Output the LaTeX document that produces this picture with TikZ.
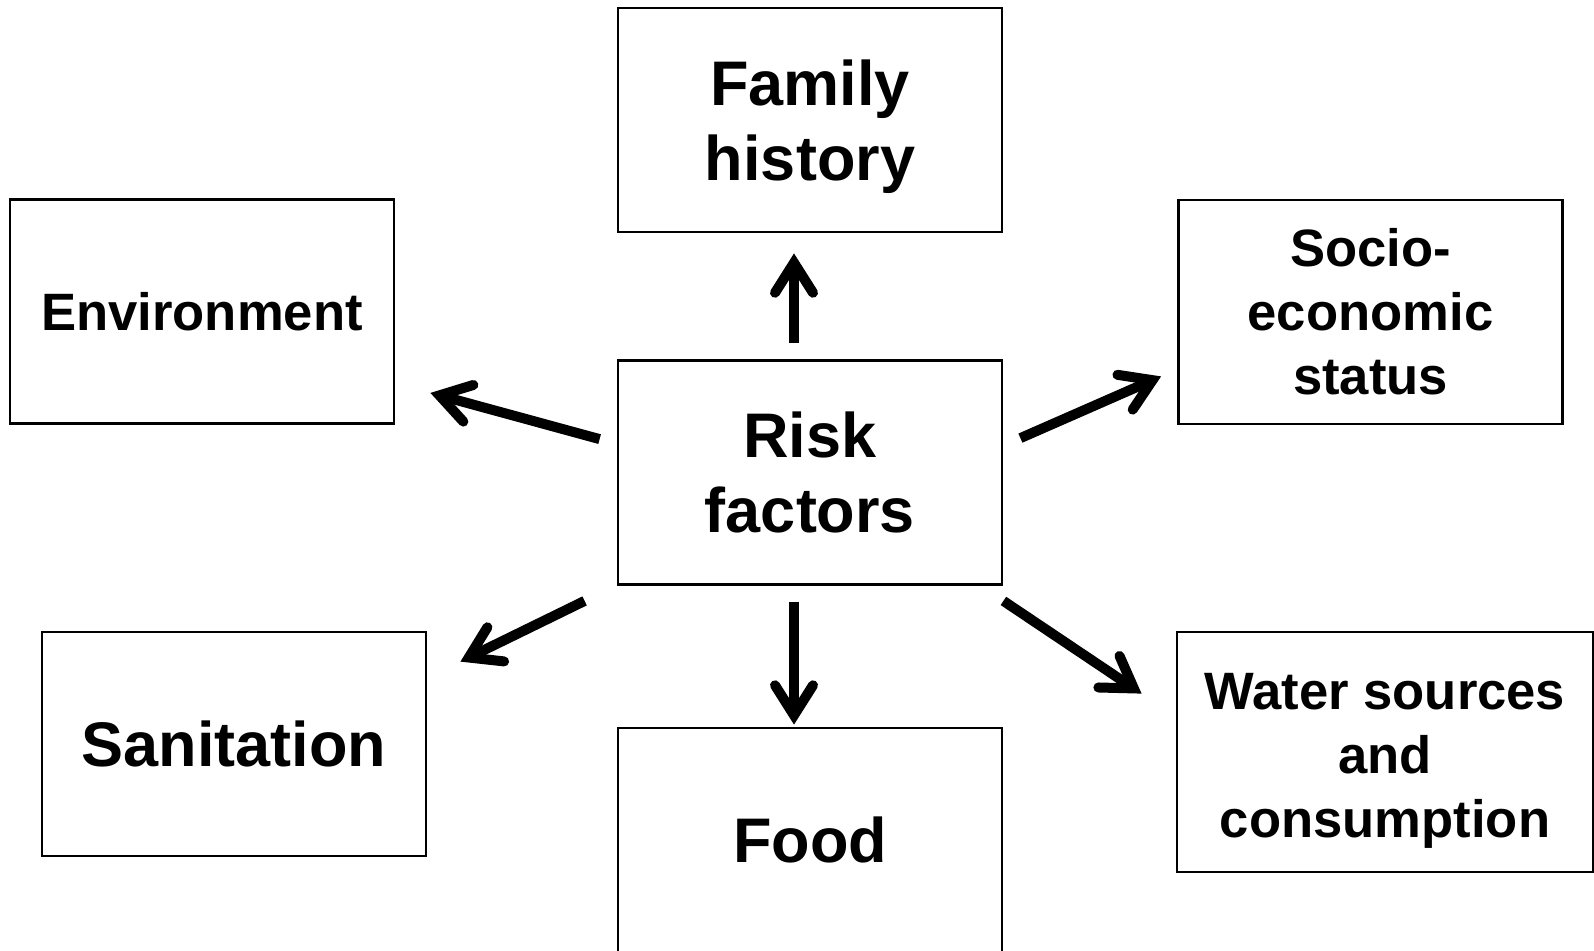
\documentclass[tikz,border=0pt]{standalone}
\usepackage{fontspec}
\setmainfont{Liberation Sans}
\usetikzlibrary{arrows.meta}
\begin{document}
\begin{tikzpicture}[x=.5pt,y=-.5pt,
  box/.style={draw,line width=1.4pt,minimum width=192pt,minimum height=112pt,
    inner sep=0pt,align=center,font=\fontsize{31.5}{37.5}\selectfont\bfseries},
  small/.style={font=\fontsize{26.3}{32}\selectfont\bfseries},
  arr/.style={line width=5pt,
    -{Straight Barb[length=15pt,width=19pt,line cap=round,line join=miter]}}]
\useasboundingbox (0,0) rectangle (1594,950);
% boxes
\node[box] (risk)   at (810,472.5) {Risk\\factors};
\node[box] (family) at (810,120)   {\rule{0pt}{30pt}Family\\history};
\node[box,small] (env)   at (202,311.5)  {Environment};
\node[box,small] (socio) at (1370.5,312) {Socio-\\economic\\status};
\node[box] (sani)   at (234,744)   {Sanitation};
\node[box] (food)   at (810,840)   {Food};
\node[box,small,minimum width=208pt,minimum height=120pt]
  (water) at (1385,752) {\rule{0pt}{27pt}Water sources\\and\\consumption};
% arrows
\draw[arr] ([shift={(-16,-16)}]risk.north) -- ([shift={(-16,20)}]family.south);
\draw[arr] ([shift={(-17,80)}]risk.north west) -- ([shift={(35,-32)}]env.south east);
\draw[arr] ([shift={(17,79)}]risk.north east) -- ([shift={(-16,-49)}]socio.south west);
\draw[arr] ([shift={(-32,15)}]risk.south west) -- ([shift={(33,31)}]sani.north east);
\draw[arr] ([shift={(-16,16)}]risk.south) -- ([shift={(-16,-2)}]food.north);
\draw[arr] ([shift={(0,15)}]risk.south east) -- ([shift={(-34,63)}]water.north west);
\end{tikzpicture}
\end{document}
